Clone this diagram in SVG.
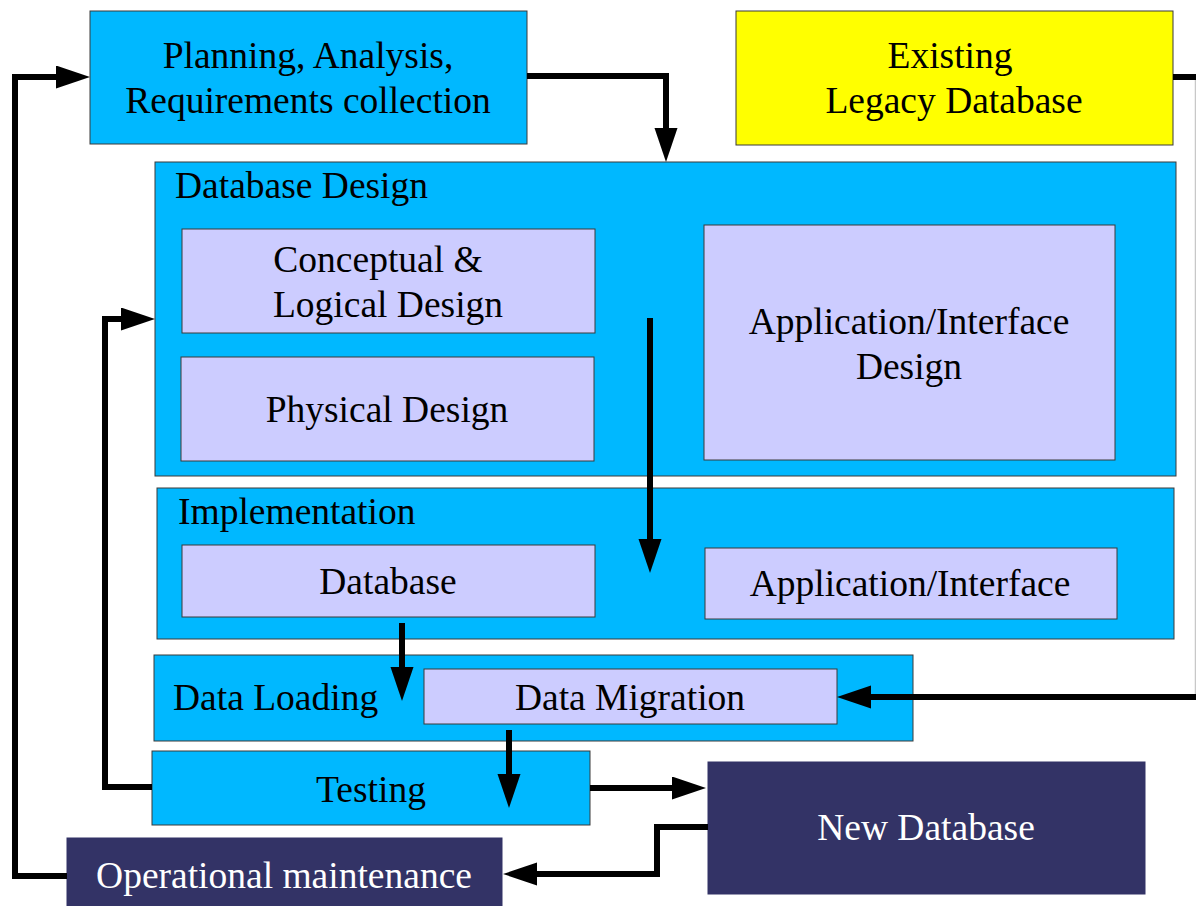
<svg xmlns="http://www.w3.org/2000/svg" width="1196" height="906" viewBox="0 0 1196 906">
  <style>
    .box { stroke: #3a3a3a; stroke-width: 1; }
    .cyan { fill: #00b8ff; }
    .lav { fill: #ccccff; }
    .navy { fill: #333366; stroke: #333366; }
    .yellow { fill: #ffff00; }
    text { font-family: "Liberation Serif", "Times New Roman", serif; font-size: 37.5px; fill: #000; }
    .c { text-anchor: middle; }
    .w { fill: #ffffff; }
    .conn { fill: none; stroke: #000; stroke-width: 6; stroke-linejoin: miter; marker-end: url(#arrow); }
    .plain { fill: none; stroke: #000; stroke-width: 6; }
    .edge { fill: none; stroke: #c8c8c8; stroke-width: 1.5; }
  </style>
  <defs>
    <marker id="arrow" markerUnits="userSpaceOnUse" markerWidth="36" markerHeight="24" refX="24" refY="11.5" orient="auto">
      <path d="M0,0 L34,11.5 L0,23 z" fill="#000"/>
    </marker>
  </defs>
  <rect width="1196" height="906" fill="#ffffff"/>

  <!-- Nodes -->
  <g id="planning">
    <rect class="box cyan" x="90" y="11" width="437" height="133"/>
    <text class="c" x="308" y="68">Planning, Analysis,</text>
    <text class="c" x="308" y="113">Requirements collection</text>
  </g>
  <g id="legacy">
    <rect class="box yellow" x="736" y="11" width="437" height="134"/>
    <text class="c" x="950" y="68">Existing</text>
    <text class="c" x="954" y="113">Legacy Database</text>
  </g>
  <g id="database-design">
    <rect class="box cyan" x="155" y="162" width="1021" height="314"/>
    <text x="175" y="198">Database Design</text>
  </g>
  <g id="conceptual-logical">
    <rect class="box lav" x="182" y="229" width="413" height="104"/>
    <text class="c" x="378" y="272">Conceptual &amp;</text>
    <text class="c" x="388" y="317">Logical Design</text>
  </g>
  <g id="physical">
    <rect class="box lav" x="181" y="357" width="413" height="104"/>
    <text class="c" x="387" y="422">Physical Design</text>
  </g>
  <g id="app-design">
    <rect class="box lav" x="704" y="225" width="411" height="235"/>
    <text class="c" x="909" y="334">Application/Interface</text>
    <text class="c" x="909" y="379">Design</text>
  </g>
  <g id="implementation">
    <rect class="box cyan" x="157" y="488" width="1017" height="151"/>
    <text x="178" y="524">Implementation</text>
  </g>
  <g id="impl-database">
    <rect class="box lav" x="182" y="545" width="413" height="72"/>
    <text class="c" x="388" y="594">Database</text>
  </g>
  <g id="impl-app">
    <rect class="box lav" x="705" y="548" width="412" height="71"/>
    <text class="c" x="910" y="596">Application/Interface</text>
  </g>
  <g id="data-loading">
    <rect class="box cyan" x="154" y="655" width="759" height="86"/>
    <text x="173" y="710">Data Loading</text>
  </g>
  <g id="data-migration">
    <rect class="box lav" x="424" y="669" width="413" height="55"/>
    <text class="c" x="630" y="710">Data Migration</text>
  </g>
  <g id="testing">
    <rect class="box cyan" x="152" y="751" width="438" height="74"/>
    <text class="c" x="371" y="802">Testing</text>
  </g>
  <g id="new-database">
    <rect class="navy" x="708" y="762" width="437" height="132"/>
    <text class="c w" x="926" y="840">New Database</text>
  </g>
  <g id="operational">
    <rect class="navy" x="67" y="838" width="435" height="80"/>
    <text class="c w" x="284" y="888">Operational maintenance</text>
  </g>

  <!-- Connectors -->
  <g id="connectors">
    <!-- planning -> database design -->
    <path class="conn" d="M527,76 H666 V152"/>
    <!-- legacy database -> data migration (vertical run sits on the page edge) -->
    <path class="plain" d="M1173,77 H1199"/>
    <path class="edge" d="M1195.5,80 V694"/>
    <path class="conn" d="M1199,697 H847"/>
    <!-- design flow down into implementation -->
    <path class="conn" d="M650,318 V563"/>
    <!-- implementation database -> data loading -->
    <path class="conn" d="M402,623 V691"/>
    <!-- data migration -> testing -->
    <path class="conn" d="M509,730 V798"/>
    <!-- testing -> new database -->
    <path class="conn" d="M590,788 H696"/>
    <!-- new database -> operational maintenance -->
    <path class="conn" d="M708,827 H657 V874 H513"/>
    <!-- testing -> back to database design -->
    <path class="conn" d="M152,787 H105 V319 H145"/>
    <!-- operational maintenance -> back to planning -->
    <path class="conn" d="M67,876 H15 V77 H80"/>
  </g>
</svg>
